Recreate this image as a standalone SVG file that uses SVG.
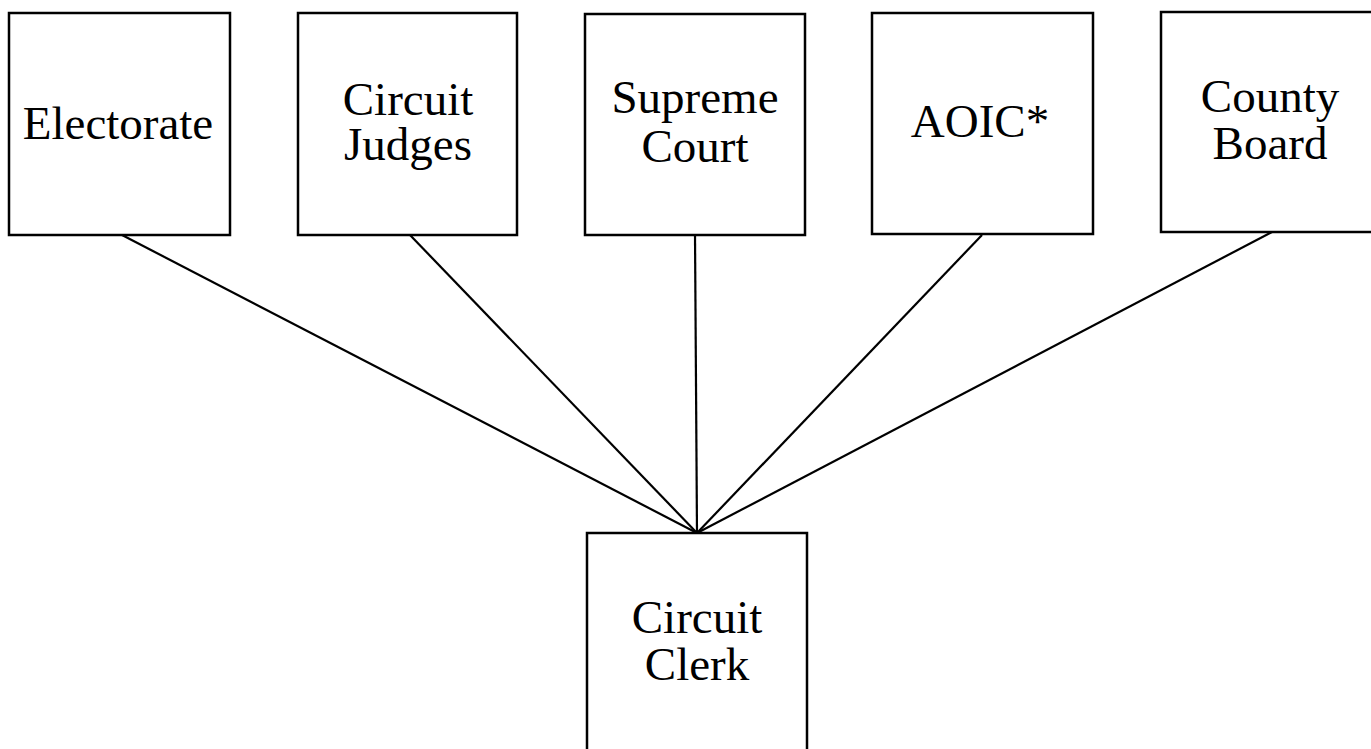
<svg xmlns="http://www.w3.org/2000/svg" width="1371" height="749" viewBox="0 0 1371 749">
<style>
.box{fill:#fff;stroke:#000;stroke-width:2.5}
.lbl{font-family:"Liberation Serif","Times New Roman",serif;font-size:47px;fill:#000;text-anchor:middle}
.conn{stroke:#000;stroke-width:2.2;fill:none}
</style>
<rect width="1371" height="749" fill="#fff"/>
<g id="connectors">
<line class="conn" x1="122" y1="235" x2="697" y2="533"/>
<line class="conn" x1="410" y1="235" x2="697" y2="533"/>
<line class="conn" x1="695" y1="235" x2="697" y2="533"/>
<line class="conn" x1="982" y1="235" x2="697" y2="533"/>
<line class="conn" x1="1272" y1="232" x2="697" y2="533"/>
</g>
<g id="electorate">
<rect class="box" x="9" y="13" width="221" height="222"/>
<text class="lbl" x="118" y="139">Electorate</text>
</g>
<g id="circuit-judges">
<rect class="box" x="298" y="13" width="219" height="222"/>
<text class="lbl" x="408" y="115">Circuit</text>
<text class="lbl" x="408" y="160">Judges</text>
</g>
<g id="supreme-court">
<rect class="box" x="585" y="14" width="220" height="221"/>
<text class="lbl" x="695" y="113">Supreme</text>
<text class="lbl" x="695" y="162">Court</text>
</g>
<g id="aoic">
<rect class="box" x="872" y="13" width="221" height="221"/>
<text class="lbl" x="980" y="137">AOIC*</text>
</g>
<g id="county-board">
<rect class="box" x="1161" y="12" width="230" height="220"/>
<text class="lbl" x="1270" y="112">County</text>
<text class="lbl" x="1270" y="159">Board</text>
</g>
<g id="circuit-clerk">
<rect class="box" x="587" y="533" width="220" height="240"/>
<text class="lbl" x="697" y="633">Circuit</text>
<text class="lbl" x="697" y="680">Clerk</text>
</g>
</svg>
